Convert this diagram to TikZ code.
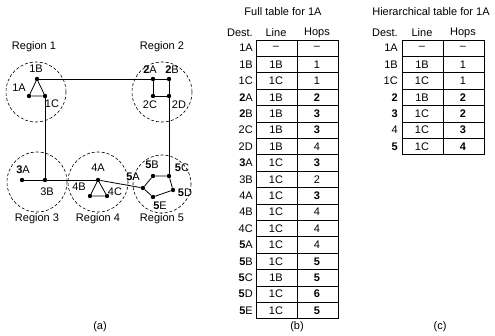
\documentclass[tikz,border=0pt]{standalone}
\usepackage{fontspec}
\setmainfont{Liberation Sans}
\begin{document}
\begin{tikzpicture}[x=1pt,y=-1pt,
  dot/.style={circle,fill=black,inner sep=0pt,minimum size=4.4pt},
  lbl/.style={font=\fontsize{11}{12}\selectfont,inner sep=0pt},
  link/.style={line width=0.8pt},
  region/.style={dashed,dash pattern=on 3pt off 2pt,line width=0.6pt},
  cell/.style={line width=1pt},
  txt/.style={font=\fontsize{11}{12}\selectfont,inner sep=0pt}]
\useasboundingbox (0,0) rectangle (495,335);
% ---------- (a) network ----------
\draw[region] (36,92) circle (30);
\draw[region] (162,92) circle (30);
\draw[region] (37,182) circle (30);
\draw[region] (98,182) circle (30);
\draw[region] (162,184) circle (29);
\node[lbl] (r1) at (34,47) {Region 1};
\node[lbl] (r2) at (162,47) {Region 2};
\node[lbl] (r3) at (37,219) {Region 3};
\node[lbl] (r4) at (98,219) {Region 4};
\node[lbl] (r5) at (162,219) {Region 5};
% routers
\node[dot] (n1A) at (29,96) {};
\node[dot] (n1B) at (37,79) {};
\node[dot] (n1C) at (45,96) {};
\node[dot] (n2A) at (153,79) {};
\node[dot] (n2B) at (169,79) {};
\node[dot] (n2C) at (153,96) {};
\node[dot] (n2D) at (169,96) {};
\node[dot] (n3A) at (22,180) {};
\node[dot] (n3B) at (45,180) {};
\node[dot] (n4A) at (98,180) {};
\node[dot] (n4B) at (90,196) {};
\node[dot] (n4C) at (107,196) {};
\node[dot] (n5A) at (143,188) {};
\node[dot] (n5B) at (153,176) {};
\node[dot] (n5C) at (169,176) {};
\node[dot] (n5D) at (173,190) {};
\node[dot] (n5E) at (153,197) {};
% links
\draw[link] (n1A) -- (n1B) -- (n1C) -- (n1A);
\draw[link] (n1B) -- (n2A);
\draw[link] (n2A) -- (n2B) -- (n2D) -- (n2C) -- (n2A);
\draw[link] (n2D) -- (n5C);
\draw[link] (n1C) -- (n3B);
\draw[link] (n3A) -- (n3B) -- (n4A);
\draw[link] (n4A) -- (n4B) -- (n4C) -- (n4A);
\draw[link] (n4A) -- (n5A);
\draw[link] (n5A) -- (n5B) -- (n5C) -- (n5D) -- (n5E) -- (n5A);
% router labels
\node[lbl] (l1A) at (19,88) {1A};
\node[lbl] (l1B) at (36,69) {1B};
\node[lbl] (l1C) at (52,104) {1C};
\node[lbl] (l2A) at (150,70) {\textbf{2}A};
\node[lbl] (l2B) at (172,70) {\textbf{2}B};
\node[lbl] (l2C) at (150,105) {2C};
\node[lbl] (l2D) at (179,105) {2D};
\node[lbl] (l3A) at (23,170) {\textbf{3}A};
\node[lbl] (l3B) at (47,192) {3B};
\node[lbl] (l4A) at (98,168) {4A};
\node[lbl] (l4B) at (79,187) {4B};
\node[lbl] (l4C) at (115,192) {4C};
\node[lbl] (l5A) at (133,177) {\textbf{5}A};
\node[lbl] (l5B) at (152,165) {\textbf{5}B};
\node[lbl] (l5C) at (182,168) {\textbf{5}C};
\node[lbl] (l5D) at (185,193) {\textbf{5}D};
\node[lbl] (l5E) at (160,206) {\textbf{5}E};
\node[lbl] (capa) at (100,327) {(a)};
% ---------- (b) full table ----------
\node[txt] (tb) at (283,12) {Full table for 1A};
\node[txt,anchor=east] (hb1) at (253,33) {Dest.};
\node[txt] (hb2) at (276,33) {Line};
\node[txt] (hb3) at (317,33) {Hops};
\foreach \d/\l/\h [count=\i] in {1A/--/--,1B/1B/1,1C/1C/1,{\textbf{2}A}/1B/{\textbf{2}},{\textbf{2}B}/1B/{\textbf{3}},2C/1B/{\textbf{3}},2D/1B/4,{\textbf{3}A}/1C/{\textbf{3}},3B/1C/2,4A/1C/{\textbf{3}},4B/1C/4,4C/1C/4,{\textbf{5}A}/1C/4,{\textbf{5}B}/1C/{\textbf{5}},{\textbf{5}C}/1B/{\textbf{5}},{\textbf{5}D}/1C/{\textbf{6}},{\textbf{5}E}/1C/{\textbf{5}}}{
  \pgfmathsetmacro{\yt}{40+(\i-1)*16.4}
  \pgfmathsetmacro{\yb}{40+\i*16.4}
  \pgfmathsetmacro{\ym}{40+(\i-0.5)*16.4}
  \draw[cell] (256,\yt) rectangle (338,\yb);
  \draw[cell] (297,\yt) -- (297,\yb);
  \node[txt,anchor=east] (bd\i) at (253,\ym) {\d};
  \node[txt] (bl\i) at (276,\ym) {\l};
  \node[txt] (bh\i) at (317,\ym) {\h};
}
\node[txt] (capb) at (297,327) {(b)};
% ---------- (c) hierarchical table ----------
\node[txt] (tc) at (431,12) {Hierarchical table for 1A};
\node[txt,anchor=east] (hc1) at (398,33) {Dest.};
\node[txt] (hc2) at (422,33) {Line};
\node[txt] (hc3) at (463,33) {Hops};
\foreach \d/\l/\h [count=\i] in {1A/--/--,1B/1B/1,1C/1C/1,{\textbf{2}}/1B/{\textbf{2}},{\textbf{3}}/1C/{\textbf{2}},4/1C/{\textbf{3}},{\textbf{5}}/1C/{\textbf{4}}}{
  \pgfmathsetmacro{\yt}{40+(\i-1)*16.4}
  \pgfmathsetmacro{\yb}{40+\i*16.4}
  \pgfmathsetmacro{\ym}{40+(\i-0.5)*16.4}
  \draw[cell] (402,\yt) rectangle (484,\yb);
  \draw[cell] (443,\yt) -- (443,\yb);
  \node[txt,anchor=east] (cd\i) at (398,\ym) {\d};
  \node[txt] (cl\i) at (422,\ym) {\l};
  \node[txt] (ch\i) at (463,\ym) {\h};
}
\node[txt] (capc) at (440,327) {(c)};
\end{tikzpicture}
\end{document}
